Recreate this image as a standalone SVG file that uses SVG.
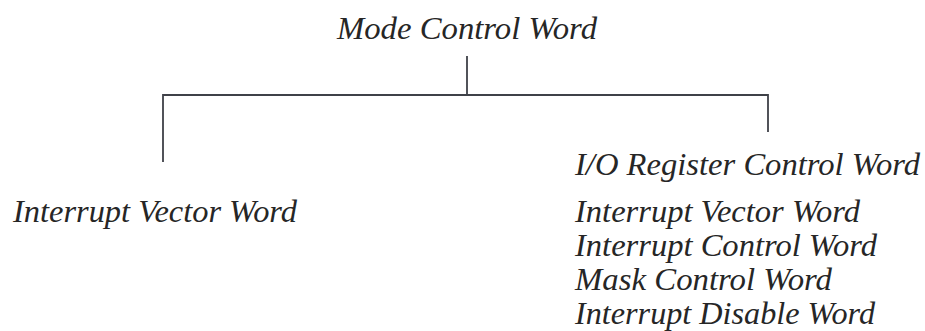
<svg xmlns="http://www.w3.org/2000/svg" width="925" height="331" viewBox="0 0 925 331">
  <style>
    .t { font-family: "Liberation Serif", "Times New Roman", serif; font-style: italic; font-size: 31.5px; fill: #262626; }
    .c { stroke: #3f4148; stroke-width: 1.8; fill: none; stroke-linecap: square; }
  </style>
  <rect width="925" height="331" fill="#ffffff"/>
  <g id="connectors">
    <line class="c" x1="467" y1="57" x2="467" y2="95"/>
    <polyline class="c" points="163,161 163,95 768,95 768,131"/>
  </g>
  <g id="mode-control-word">
    <text class="t" x="337" y="39" textLength="260" lengthAdjust="spacingAndGlyphs">Mode Control Word</text>
  </g>
  <g id="interrupt-vector-word-left">
    <text class="t" x="13" y="222" textLength="284" lengthAdjust="spacingAndGlyphs">Interrupt Vector Word</text>
  </g>
  <g id="io-register-control-word">
    <text class="t" x="575" y="175" textLength="345" lengthAdjust="spacingAndGlyphs">I/O Register Control Word</text>
    <text class="t" x="575" y="222" textLength="285" lengthAdjust="spacingAndGlyphs">Interrupt Vector Word</text>
    <text class="t" x="575" y="256" textLength="302" lengthAdjust="spacingAndGlyphs">Interrupt Control Word</text>
    <text class="t" x="575" y="290" textLength="257" lengthAdjust="spacingAndGlyphs">Mask Control Word</text>
    <text class="t" x="575" y="324" textLength="300" lengthAdjust="spacingAndGlyphs">Interrupt Disable Word</text>
  </g>
</svg>
